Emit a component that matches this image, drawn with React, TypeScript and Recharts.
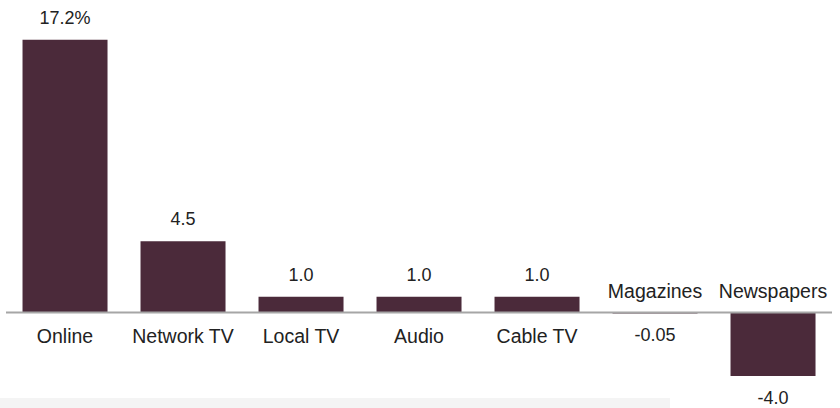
import React from 'react';
import { BarChart, Bar, XAxis, YAxis, ReferenceLine, LabelList } from 'recharts';

const CATEGORIES = ['Online', 'Network TV', 'Local TV', 'Audio', 'Cable TV', 'Magazines', 'Newspapers'];
const VALUES = [17.2, 4.5, 1.0, 1.0, 1.0, -0.05, -4.0];
const VALUE_LABELS = ['17.2%', '4.5', '1.0', '1.0', '1.0', '-0.05', '-4.0'];

const BAR_COLOR = '#4b2a3a';
const TEXT_COLOR = '#222222';
const FONT = '"Liberation Sans", Arial, sans-serif';

const data = CATEGORIES.map((name, i) => ({
  name,
  value: VALUES[i],
  label: VALUE_LABELS[i],
}));

// draws both the value (outside the bar end) and the category name (on the
// other side of the zero line), since negative bars flip the placement
const BarLabels = (props: any) => {
  const { x, y, width, height, index } = props;
  const top = Math.min(y, y + height);
  const bottom = Math.max(y, y + height);
  const positive = VALUES[index] >= 0;
  const cx = x + width / 2;
  const base = positive ? bottom : top;
  const valueY = positive ? top - 22 : bottom + 22;
  const catY = positive ? base + 23 : base - 22;
  return (
    <g>
      <text x={cx} y={valueY} textAnchor="middle" dominantBaseline="central"
        fontFamily={FONT} fontSize={18} fill={TEXT_COLOR}>
        {VALUE_LABELS[index]}
      </text>
      <text x={cx} y={catY} textAnchor="middle" dominantBaseline="central"
        fontFamily={FONT} fontSize={19.5} fill={TEXT_COLOR}>
        {CATEGORIES[index]}
      </text>
    </g>
  );
};

export default function App() {
  return (
    <div style={{ position: 'absolute', left: 0, top: 0, width: 840, height: 408, background: '#fff' }}>
      <div style={{ position: 'absolute', left: 0, top: 398, width: 670, height: 10, background: '#f4f4f4' }} />
      <div style={{ position: 'absolute', left: 0, top: 0 }}>
        <BarChart
          width={840}
          height={408}
          data={data}
          margin={{ top: 35, right: 8, left: 6, bottom: 24 }}
          barCategoryGap="14%"
        >
          <XAxis dataKey="name" hide />
          <YAxis hide domain={[-4.5, 17.5]} />
          <Bar dataKey="value" fill={BAR_COLOR} isAnimationActive={false}>
            <LabelList dataKey="label" content={BarLabels} />
          </Bar>
          <ReferenceLine y={0} stroke="#a6a6a6" strokeWidth={2} />
        </BarChart>
      </div>
    </div>
  );
}
